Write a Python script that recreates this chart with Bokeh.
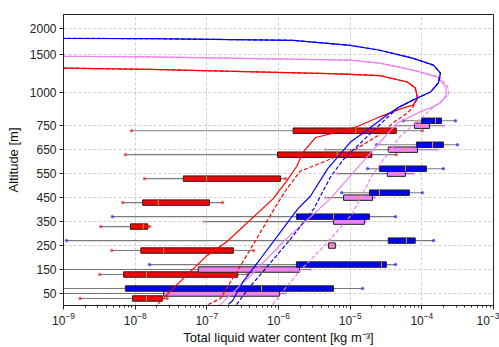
import numpy as np
from bokeh.plotting import figure
from bokeh.models import Range1d, FixedTicker
from bokeh.embed import file_html
from bokeh.resources import INLINE

# ---------------- data ----------------
levels = [50, 150, 250, 350, 450, 550, 650, 750]

red_whislo = [1.7e-9, 3.2e-9, 4.7e-9, 3.3e-9, 6.7e-9, 1.35e-8, 7.3e-9, 8.9e-9]
red_q1 = [9.2e-9, 6.9e-9, 1.2e-8, 8.6e-9, 1.27e-8, 4.7e-8, 9.7e-7, 1.6e-6]
red_med = [1.44e-8, 1.44e-8, 2.5e-8, 1.3e-8, 2.1e-8, 9.9e-8, 6.6e-6, 1.2e-5]
red_q3 = [2.4e-8, 2.7e-7, 2.35e-7, 1.5e-8, 1.09e-7, 1.07e-6, 2.0e-5, 4.4e-5]
red_whishi = [2.8e-8, 3.7e-7, 4.5e-7, 1.6e-8, 1.66e-7, 1.25e-6, 4.4e-5, 1.02e-4]

blue_whislo = [5e-10, 1.58e-8, 1.1e-9, 4.8e-9, 7.6e-6, 1.75e-5, 2.33e-5, 5.5e-5]
blue_q1 = [7.3e-9, 1.78e-6, 3.4e-5, 1.78e-6, 1.86e-5, 2.56e-5, 8.4e-5, 9.9e-5]
blue_med = [5.8e-7, 2.73e-5, 6.1e-5, 5.85e-6, 2.56e-5, 5.9e-5, 1.41e-4, 1.55e-4]
blue_q3 = [5.85e-6, 3.2e-5, 8.1e-5, 1.86e-5, 6.7e-5, 1.16e-4, 2.0e-4, 1.88e-4]
blue_whishi = [1.49e-5, 4.3e-5, 1.46e-4, 4.3e-5, 1.02e-4, 2.0e-4, 3.15e-4, 2.95e-4]

violet_whislo = [5e-10, 5e-10, 5.0e-6, 9e-8, 4.5e-6, 6.6e-6, 4.5e-6, 4.3e-5]
violet_q1 = [2.5e-8, 7.6e-8, 5.0e-6, 5.85e-6, 8.1e-6, 3.3e-5, 3.4e-5, 7.9e-5]
violet_med = [1.8e-7, 6.0e-7, 5.5e-6, 1.0e-5, 1.3e-5, 4.5e-5, 5.7e-5, 1.0e-4]
violet_q3 = [1.03e-6, 1.96e-6, 6.2e-6, 1.58e-5, 2.05e-5, 5.9e-5, 8.7e-5, 1.28e-4]
violet_whishi = [1.25e-6, 2.8e-6, 6.2e-6, 1.65e-5, 2.2e-5, 7.6e-5, 1.65e-4, 2.0e-4]

# profiles (altitude [m], LWC [kg m-3])
red_alt = [8, 79, 208, 266, 444, 519, 581, 639, 701, 726, 747, 818, 871, 909, 962,
           1065, 1143, 1227, 1243, 1253, 1308, 1325, 1345]
red_lwc = [2.1e-8, 3.6e-8, 1.0e-7, 1.9e-7, 8.3e-7, 1.3e-6, 1.8e-6, 2.2e-6, 3.3e-6, 7.2e-6,
           1.26e-5, 2.6e-5, 4.6e-5, 7.6e-5, 8.7e-5, 8.1e-5, 6.3e-5, 2.6e-5, 1.0e-5, 5.2e-6,
           1.6e-8, 1.0e-9, 3e-11]
red_dash_alt = [4, 29, 237, 403, 486, 560, 610, 652, 714, 773, 848, 894, 962,
                1065, 1143, 1227, 1243, 1253, 1308, 1325, 1345]
red_dash_lwc = [1.05e-7, 1.55e-7, 4.1e-7, 8.7e-7, 1.3e-6, 2.0e-6, 5.2e-6, 1.2e-5, 2.6e-5,
                4.0e-5, 6.3e-5, 7.6e-5, 8.7e-5, 8.1e-5, 6.3e-5, 2.6e-5, 1.0e-5, 5.2e-6,
                1.6e-8, 1.0e-9, 3e-11]

blue_alt = [4, 21, 100, 195, 307, 403, 457, 569, 681, 722, 833, 886, 947, 1013, 1130,
            1260, 1364, 1453, 1585, 1679, 1774, 1806, 1811, 1830]
blue_lwc = [2.0e-7, 2.3e-7, 3.2e-7, 5.6e-7, 1.07e-6, 1.86e-6, 2.8e-6, 4.8e-6, 1.0e-5,
            1.55e-5, 3.3e-5, 4.6e-5, 7.6e-5, 1.32e-4, 1.7e-4, 1.82e-4, 1.45e-4, 7.6e-5,
            2.6e-5, 1.0e-5, 1.6e-6, 1.6e-8, 1.0e-9, 3e-11]
blue_dash_alt = [4, 71, 154, 278, 403, 540, 610, 735, 886, 947, 1013, 1130, 1260, 1364,
                 1453, 1585, 1679, 1774, 1806, 1811, 1830]
blue_dash_lwc = [2.6e-7, 3.8e-7, 6.6e-7, 1.48e-6, 3.1e-6, 5.4e-6, 8.1e-6, 2.2e-5, 4.6e-5,
                 7.6e-5, 1.32e-4, 1.7e-4, 1.82e-4, 1.45e-4, 7.6e-5, 2.6e-5, 1.0e-5, 1.6e-6,
                 1.6e-8, 1.0e-9, 3e-11]

violet_alt = [0, 13, 125, 266, 444, 681, 773, 856, 886, 924, 985, 1078, 1208, 1299, 1390,
              1429, 1471, 1480, 1495]
violet_lwc = [1.5e-7, 1.66e-7, 4.1e-7, 1.17e-6, 5.2e-6, 2.6e-5, 4.6e-5, 9.5e-5, 1.32e-4,
              1.82e-4, 2.2e-4, 2.15e-4, 1.66e-4, 7.6e-5, 2.6e-5, 1.0e-5, 1.6e-8, 1.0e-9, 3e-11]
violet_dash_alt = [4, 62, 145, 257, 382, 540, 706, 871, 985, 1078, 1208, 1299, 1390, 1429,
                   1471, 1480, 1495]
violet_dash_lwc = [8.3e-7, 1.17e-6, 2.0e-6, 4.6e-6, 1.07e-5, 2.0e-5, 5.0e-5, 1.32e-4,
                   2.35e-4, 2.3e-4, 1.78e-4, 7.6e-5, 2.6e-5, 1.0e-5, 1.6e-8, 1.0e-9, 3e-11]

y_tick_alts = [50, 150, 250, 350, 450, 550, 650, 750, 1000, 1500, 2000]
y_tick_labels = ["50", "150", "250", "350", "450", "550", "650", "750", "1000", "1500", "2000"]
x_ticks = [1e-9, 1e-8, 1e-7, 1e-6, 1e-5, 1e-4, 1e-3]

# ---------------- altitude scale (linear below 750 m, compressed above) -------------
ALT_NODES = [0, 750, 1000, 1500, 2000, 2600]
POS_NODES = [0.0, 181.0, 214.0, 252.5, 279.0, 307.0]


def ypos(a):
    return np.interp(np.asarray(a, dtype=float), ALT_NODES, POS_NODES)


FONT = "Liberation Sans"

p = figure(width=499, height=347, x_axis_type="log", output_backend="svg",
           toolbar_location=None, x_range=Range1d(1e-9, 1e-3), y_range=Range1d(0, 293),
           min_border_left=63, min_border_right=6, min_border_top=14, min_border_bottom=40)
p.background_fill_color = "white"
p.border_fill_color = "white"
p.outline_line_color = "#222222"
p.outline_line_width = 1

# axes
yt = [round(float(v), 3) for v in ypos(y_tick_alts)]
p.yaxis.ticker = FixedTicker(ticks=yt)
p.yaxis.major_label_overrides = {t: lab for t, lab in zip(yt, y_tick_labels)}
minor_x = [m * d for d in x_ticks[:-1] for m in range(2, 10)]
p.xaxis.ticker = FixedTicker(ticks=x_ticks, minor_ticks=minor_x)
p.xgrid.ticker = FixedTicker(ticks=x_ticks)
p.ygrid.ticker = FixedTicker(ticks=yt)

for g in (p.xgrid, p.ygrid):
    g.grid_line_color = "#cfcfcf"
    g.grid_line_dash = "3 2"
    g.grid_line_width = 1

for ax in (p.xaxis, p.yaxis):
    ax.axis_line_color = "#222222"
    ax.major_tick_line_color = "#222222"
    ax.minor_tick_line_color = "#222222"
    ax.major_tick_in = 0
    ax.major_tick_out = 4
    ax.minor_tick_in = 0
    ax.minor_tick_out = 2
    ax.major_label_text_font = FONT
    ax.major_label_text_font_size = "12px"
    ax.major_label_text_color = "#222222"
    ax.axis_label_text_font = FONT
    ax.axis_label_text_font_size = "13px"
    ax.axis_label_text_font_style = "normal"
    ax.axis_label_text_color = "#111111"
p.yaxis.minor_tick_line_color = None
p.xaxis.major_label_standoff = 2
p.xaxis.axis_label_standoff = 2
p.yaxis.major_label_standoff = 3
p.yaxis.axis_label_standoff = 6
p.xaxis.axis_label = "Total liquid water content [kg m⁻³]"
p.yaxis.axis_label = "Altitude [m]"

# ---------------- box plots ----------------
BOX_H = 5.5
series = [
    ("red", -5.0, red_whislo, red_q1, red_med, red_q3, red_whishi),
    ("violet", 0.0, violet_whislo, violet_q1, violet_med, violet_q3, violet_whishi),
    ("blue", 5.0, blue_whislo, blue_q1, blue_med, blue_q3, blue_whishi),
]
for color, off, wl, q1, med, q3, wh in series:
    yc = ypos(levels) + off
    p.segment(x0=wl, x1=q1, y0=yc, y1=yc, line_color="#5a5a5a", line_width=1.1, line_alpha=0.8)
    p.segment(x0=q3, x1=wh, y0=yc, y1=yc, line_color="#5a5a5a", line_width=1.1, line_alpha=0.8)
    p.scatter(x=wl, y=yc, size=2.5, marker="circle", fill_color=color, line_color=color,
              fill_alpha=0.5, line_alpha=0.5)
    p.scatter(x=wh, y=yc, size=2.5, marker="circle", fill_color=color, line_color=color,
              fill_alpha=0.5, line_alpha=0.5)
    p.hbar(y=yc, left=q1, right=q3, height=BOX_H, fill_color=color, line_color="#222222", line_width=1)
    p.segment(x0=med, x1=med, y0=yc - BOX_H / 2, y1=yc + BOX_H / 2, line_color="#ff9900", line_width=1)

# ---------------- profiles ----------------
profiles = [
    (red_alt, red_lwc, "red", "solid"),
    (red_dash_alt, red_dash_lwc, "red", "4 2"),
    (violet_alt, violet_lwc, "violet", "solid"),
    (violet_dash_alt, violet_dash_lwc, "violet", "4 2"),
    (blue_alt, blue_lwc, "blue", "solid"),
    (blue_dash_alt, blue_dash_lwc, "blue", "4 2"),
]
for alt, lwc, color, dash in profiles:
    p.line(x=lwc, y=ypos(alt), line_color=color, line_width=1.2, line_dash=dash)

open("out.html", "w").write(file_html(p, INLINE))
